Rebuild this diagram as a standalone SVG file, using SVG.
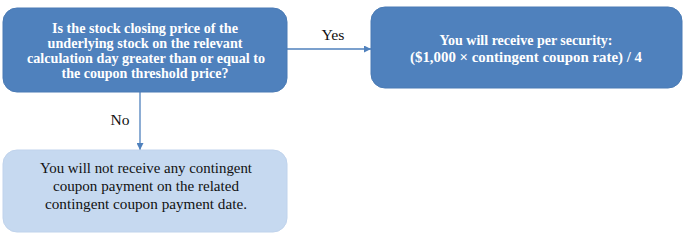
<svg xmlns="http://www.w3.org/2000/svg" width="691" height="237" viewBox="0 0 691 237">
<defs>
<style>
.dk{fill:#4F81BD;stroke:#4A7BB5;stroke-width:1}
.lt{fill:#C6D9F0;stroke:#C0D3EC;stroke-width:1}
text{font-family:"Liberation Serif","DejaVu Serif",serif;font-size:15px;text-anchor:middle}
.tw{font-weight:bold;fill:#fff}
.tb{fill:#111}
.lb{fill:#111}
.cn{stroke:#4F81BD;stroke-width:1.3;fill:none;marker-end:url(#ah)}
</style>
<marker id="ah" viewBox="0 0 10 10" refX="10" refY="5" markerWidth="7" markerHeight="7" markerUnits="userSpaceOnUse" orient="auto">
<path d="M0,0 L10,5 L0,10 z" fill="#4F81BD"/>
</marker>
</defs>
<g id="connectors">
<path class="cn" d="M287,49 L371,49"/>
<path class="cn" d="M140,92 L140,150"/>
<text class="lb" x="333" y="40" textLength="23" lengthAdjust="spacingAndGlyphs">Yes</text>
<text class="lb" x="120" y="125" textLength="19" lengthAdjust="spacingAndGlyphs">No</text>
</g>
<g id="question">
<rect class="dk" x="3" y="8" width="284" height="84" rx="14"/>
<text class="tw" x="145" y="33" textLength="186" lengthAdjust="spacingAndGlyphs">Is the stock closing price of the</text>
<text class="tw" x="145" y="48" textLength="195" lengthAdjust="spacingAndGlyphs">underlying stock on the relevant</text>
<text class="tw" x="146" y="63" textLength="238" lengthAdjust="spacingAndGlyphs">calculation day greater than or equal to</text>
<text class="tw" x="145" y="78" textLength="167" lengthAdjust="spacingAndGlyphs">the coupon threshold price?</text>
</g>
<g id="yes">
<rect class="dk" x="371" y="7" width="311" height="81" rx="14"/>
<text class="tw" x="526" y="45" textLength="173" lengthAdjust="spacingAndGlyphs">You will receive per security:</text>
<text class="tw" x="526" y="62" textLength="232" lengthAdjust="spacingAndGlyphs">($1,000 × contingent coupon rate) / 4</text>
</g>
<g id="no">
<rect class="lt" x="3" y="150" width="284" height="82" rx="14"/>
<text class="tb" x="146" y="173" textLength="212" lengthAdjust="spacingAndGlyphs">You will not receive any contingent</text>
<text class="tb" x="146" y="191" textLength="186" lengthAdjust="spacingAndGlyphs">coupon payment on the related</text>
<text class="tb" x="146" y="209" textLength="202" lengthAdjust="spacingAndGlyphs">contingent coupon payment date.</text>
</g>
</svg>
